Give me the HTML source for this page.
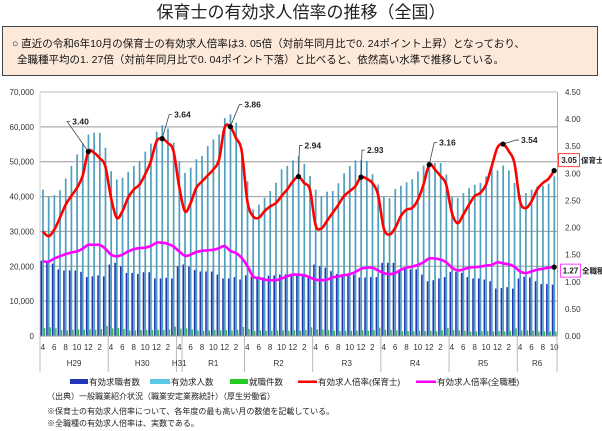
<!DOCTYPE html>
<html><head><meta charset="utf-8">
<style>
html,body{margin:0;padding:0;background:#fff;}
svg{display:block;font-family:"Liberation Sans","Noto Sans CJK JP",sans-serif;}
</style></head>
<body>
<svg id="chart" width="602" height="431" viewBox="0 0 602 431" xmlns="http://www.w3.org/2000/svg">
<text x="301" y="18" font-size="17" text-anchor="middle" fill="#222">保育士の有効求人倍率の推移（全国）</text>
<rect x="2.5" y="26.5" width="595" height="49" fill="#fde9d9" stroke="#444" stroke-width="1"/>
<text x="12" y="47" font-size="10.5" fill="#111">○  直近の令和6年10月の保育士の有効求人倍率は3. 05倍（対前年同月比で0. 24ポイント上昇）となっており、</text>
<text x="17" y="63" font-size="10.5" fill="#111">全職種平均の1. 27倍（対前年同月比で0. 04ポイント下落）と比べると、依然高い水準で推移している。</text>
<g id="plot"></g>
<text x="47" y="399" font-size="8" fill="#222">（出典）一般職業紹介状況（職業安定業務統計）（厚生労働省）</text>
<text x="47" y="414" font-size="8" fill="#222">※保育士の有効求人倍率について、各年度の最も高い月の数値を記載している。</text>
<text x="47" y="426" font-size="8" fill="#222">※全職種の有効求人倍率は、実数である。</text>
</svg>
<script>
const monthLabels = [4,5,6,7,8,9,10,11,12,1,2,3];
const yearGroups = ["H29","H30","H31","R1","R2","R3","R4","R5","R6"];
const yearGroupStarts = [0,12,24,25,36,48,60,72,84];
const leftTicks = [0,10000,20000,30000,40000,50000,60000,70000];
const rightTicks = [0,0.5,1,1.5,2,2.5,3,3.5,4,4.5];
const jobOffers = [42000,39900,40400,41800,45200,48800,52100,55000,57800,58300,58300,54000,
47300,44900,45400,47100,48800,50200,52900,55200,58600,60500,59500,55500,
50200,46800,48300,50700,51600,54500,56400,57800,62500,63600,61200,53500,
44400,36300,37700,39700,41600,44000,47800,48800,50400,51600,49400,45900,
42000,40100,41400,41600,43800,46700,48800,50400,50400,50200,46400,43400,
40000,39600,42200,43100,44100,45000,47200,48900,49600,49600,49600,46300,
40000,39600,41000,42400,43400,43900,45800,48200,47500,48900,47500,43900,
40500,41000,42000,42900,43100,43700,45800];
const jobSeekers = [21600,21500,20800,19100,18800,18800,18800,18400,16900,17100,17400,17100,
20500,21000,20000,18100,18100,17800,18300,18300,16500,16500,16700,16500,
20000,20500,19900,18900,18500,18500,18500,17600,16500,16500,16900,16200,
17400,17000,16800,16800,17300,17400,17600,17700,17600,17500,17500,16800,
20500,20000,19600,18600,17800,17800,17600,17600,16800,16800,16900,16900,
21000,21000,21000,19100,19100,19100,19100,17600,15700,16000,16500,16900,
18400,18400,18100,16900,16500,16500,16200,15700,13600,13800,14000,13600,
16500,17000,16800,15700,14900,14900,14700];
const placements = [2300,2500,2200,1700,1600,1800,1900,1800,1900,1800,2000,2900,
2200,2300,2000,1600,1600,1700,1700,1700,1800,1700,1900,2700,
2100,2200,1900,1600,1500,1600,1700,1600,1700,1600,1800,2600,
2000,1400,1600,1500,1500,1600,1600,1500,1600,1500,1700,2500,
1900,1800,1700,1500,1400,1500,1500,1500,1600,1500,1700,2400,
1800,1700,1600,1400,1400,1400,1500,1400,1500,1400,1600,2300,
1700,1600,1500,1300,1300,1400,1400,1300,1400,1300,1500,2200,
1600,1600,1500,1300,1300,1300,1300];
const ratioHoiku = [1.93,1.84,1.96,2.18,2.42,2.58,2.73,2.95,3.40,3.38,3.28,3.13,
2.55,2.18,2.30,2.55,2.70,2.79,2.98,3.22,3.59,3.64,3.56,3.41,
2.75,2.30,2.45,2.73,2.85,2.96,3.07,3.25,3.84,3.86,3.65,3.41,
2.48,2.21,2.18,2.30,2.39,2.45,2.58,2.70,2.85,2.94,2.82,2.70,
2.05,1.98,2.12,2.27,2.42,2.58,2.67,2.76,2.93,2.90,2.82,2.61,
1.99,1.87,1.99,2.21,2.33,2.36,2.51,2.79,3.16,3.07,2.95,2.79,
2.27,2.08,2.24,2.42,2.58,2.64,2.79,3.13,3.47,3.54,3.41,3.19,
2.48,2.36,2.48,2.70,2.82,2.90,3.05];
const ratioAll = [1.38,1.37,1.43,1.47,1.51,1.54,1.56,1.61,1.68,1.68,1.68,1.61,
1.50,1.47,1.50,1.56,1.60,1.62,1.63,1.66,1.72,1.72,1.70,1.65,
1.56,1.48,1.50,1.55,1.57,1.58,1.59,1.62,1.66,1.57,1.53,1.44,
1.29,1.10,1.07,1.04,1.03,1.03,1.06,1.10,1.13,1.13,1.12,1.08,
1.04,1.03,1.04,1.08,1.10,1.12,1.14,1.18,1.24,1.26,1.26,1.21,
1.16,1.14,1.16,1.22,1.26,1.28,1.31,1.36,1.43,1.43,1.41,1.36,
1.26,1.21,1.23,1.26,1.27,1.28,1.30,1.31,1.36,1.34,1.32,1.28,
1.19,1.16,1.19,1.22,1.24,1.26,1.27];
const peakIndices = [8,21,33,45,56,68,81];
const peakLabelOffsets = [[-18,-32],[10,-26],[12,-24],[4,-33],[4,-29],[8,-24],[16,-6]];

const NS="http://www.w3.org/2000/svg";
const g=document.getElementById('plot');
const X0=40,X1=557,Y0=336,Y1=92,N=jobOffers.length;
const step=(X1-X0)/N;
function xs(i){return X0+(i+0.5)*step;}
function yL(v){return Y0-v/70000*(Y0-Y1);}
function yR(r){return Y0-r/4.5*(Y0-Y1);}
function mk(tag,attrs){const e=document.createElementNS(NS,tag);for(const k in attrs)e.setAttribute(k,attrs[k]);g.appendChild(e);return e;}

leftTicks.forEach(v=>{
  const l=mk('line',{x1:X0,x2:X1,y1:yL(v),y2:yL(v),stroke:v===70000?'#bbb':'#999','stroke-width':1});
  
  
  const t=mk('text',{x:34,y:yL(v)+3,'font-size':8,'text-anchor':'end',fill:'#333'});
  t.textContent=v===0?'0':v.toLocaleString('en-US');
  
  
});
rightTicks.forEach(r=>{
  const t=mk('text',{x:565,y:yR(r)+3,'font-size':8,fill:'#333'});
  t.textContent=r.toFixed(2);
  
  
});
const ra=mk('line',{x1:X1+0.5,x2:X1+0.5,y1:Y1,y2:Y0,stroke:'#aaa'});


const la=mk('line',{x1:X0,x2:X0,y1:Y1,y2:Y0,stroke:'#ccc'});



for(let i=0;i<N;i++){
  const cx=xs(i);
  const b1=mk('rect',{x:cx-2.4,y:yL(jobSeekers[i]),width:1.6,height:Y0-yL(jobSeekers[i]),fill:'#2236b8'});
  
  
  const b2=mk('rect',{x:cx-0.7,y:yL(jobOffers[i]),width:1.7,height:Y0-yL(jobOffers[i]),fill:'#4f9fbe'});
  
  
  const b3=mk('rect',{x:cx+1.0,y:yL(placements[i]),width:1.4,height:Y0-yL(placements[i]),fill:'#3cb043'});
  
  
}
const bl=mk('line',{x1:X0,x2:X1,y1:Y0,y2:Y0,stroke:'#999'});



function smooth(arr){
  const p=arr.map((v,i)=>[xs(i),yR(v)]);
  let d='M'+p[0][0]+','+p[0][1];
  for(let i=0;i<p.length-1;i++){
    const a=p[Math.max(0,i-1)],b=p[i],c=p[i+1],e=p[Math.min(p.length-1,i+2)];
    const c1=[b[0]+(c[0]-a[0])/6,b[1]+(c[1]-a[1])/6],c2=[c[0]-(e[0]-b[0])/6,c[1]-(e[1]-b[1])/6];
    d+=' C'+c1[0].toFixed(1)+','+c1[1].toFixed(1)+' '+c2[0].toFixed(1)+','+c2[1].toFixed(1)+' '+c[0].toFixed(1)+','+c[1].toFixed(1);
  }
  return d;
}
const lm=mk('path',{d:smooth(ratioAll),fill:'none',stroke:'#ff00ff','stroke-width':2.6});


const lr=mk('path',{d:smooth(ratioHoiku),fill:'none',stroke:'#ff0000','stroke-width':2.6});



peakIndices.forEach((pi,k)=>{
  const px=xs(pi),py=yR(ratioHoiku[pi]);
  const tx=px+peakLabelOffsets[k][0],ty=py+peakLabelOffsets[k][1];
  const ld=mk('polyline',{points:px+','+py+' '+(tx-3)+','+(ty+2)+' '+(tx)+','+(ty+2),fill:'none',stroke:'#444','stroke-width':0.8});
  
  
  const dt=mk('circle',{cx:px,cy:py,r:2.6,fill:'#000'});
  
  
  const t=mk('text',{x:tx+2,y:ty+5,'font-size':8.5,'font-weight':'bold',fill:'#222'});
  t.textContent=ratioHoiku[pi].toFixed(2);
  
  
});
const last=N-1;
const d1=mk('circle',{cx:xs(last),cy:yR(ratioHoiku[last]),r:2.6,fill:'#000'});


const d2=mk('circle',{cx:xs(last),cy:yR(ratioAll[last]),r:2.6,fill:'#000'});


const bx1=mk('rect',{x:558.5,y:yR(ratioHoiku[last])-17,width:21,height:13,fill:'#fff',stroke:'#ff4040','stroke-width':1});


const bt1=mk('text',{x:569,y:yR(ratioHoiku[last])-7.5,'font-size':8,'font-weight':'bold','text-anchor':'middle',fill:'#222'});
bt1.textContent=ratioHoiku[last].toFixed(2);


const bn1=mk('text',{x:581,y:yR(ratioHoiku[last])-7.5,'font-size':7.5,'font-weight':'bold',fill:'#222'});
bn1.textContent='保育士';


const bx2=mk('rect',{x:560.5,y:yR(ratioAll[last])-3,width:20,height:13,fill:'#fff',stroke:'#ff40ff','stroke-width':1});


const bt2=mk('text',{x:570.5,y:yR(ratioAll[last])+6.5,'font-size':8,'font-weight':'bold','text-anchor':'middle',fill:'#222'});
bt2.textContent=ratioAll[last].toFixed(2);


const bn2=mk('text',{x:582,y:yR(ratioAll[last])+6.5,'font-size':7.5,'font-weight':'bold',fill:'#222'});
bn2.textContent='全職種';



for(let i=0;i<N;i++){
  const m=monthLabels[i%12];
  if(m%2===0){
    const t=mk('text',{x:xs(i),y:350,'font-size':8,'text-anchor':'middle',fill:'#333'});
    t.textContent=m;
    
    
  }
}
const bounds=yearGroupStarts.concat([N]);
for(let k=0;k<bounds.length;k++){
  const x=X0+bounds[k]*step;
  const s=mk('line',{x1:x,x2:x,y1:Y0,y2:372,stroke:'#aaa','stroke-width':0.8});
  
  
}
yearGroups.forEach((yname,k)=>{
  const cx=X0+(bounds[k]+bounds[k+1])/2*step;
  const t=mk('text',{x:cx,y:366,'font-size':8,'text-anchor':'middle',fill:'#333'});
  t.textContent=yname;
  
  
});

const legendItems=[
 {x:70,w:18,c:'#2236b8',t:'有効求職者数',bar:true},
 {x:150,w:20,c:'#5bc8e8',t:'有効求人数',bar:true},
 {x:230,w:18,c:'#22cc22',t:'就職件数',bar:true},
 {x:298,w:19,c:'#ff0000',t:'有効求人倍率(保育士)',bar:false},
 {x:416,w:20,c:'#ff00ff',t:'有効求人倍率(全職種)',bar:false}];
legendItems.forEach(it=>{
  const s=it.bar?mk('rect',{x:it.x,y:379,width:it.w,height:5,fill:it.c}):mk('rect',{x:it.x,y:380.5,width:it.w,height:2.5,fill:it.c});
  
  
  const t=mk('text',{x:it.x+it.w+1,y:385,'font-size':8.5,fill:'#222'});
  t.textContent=it.t;
  
  
});
</script>
</body></html>
